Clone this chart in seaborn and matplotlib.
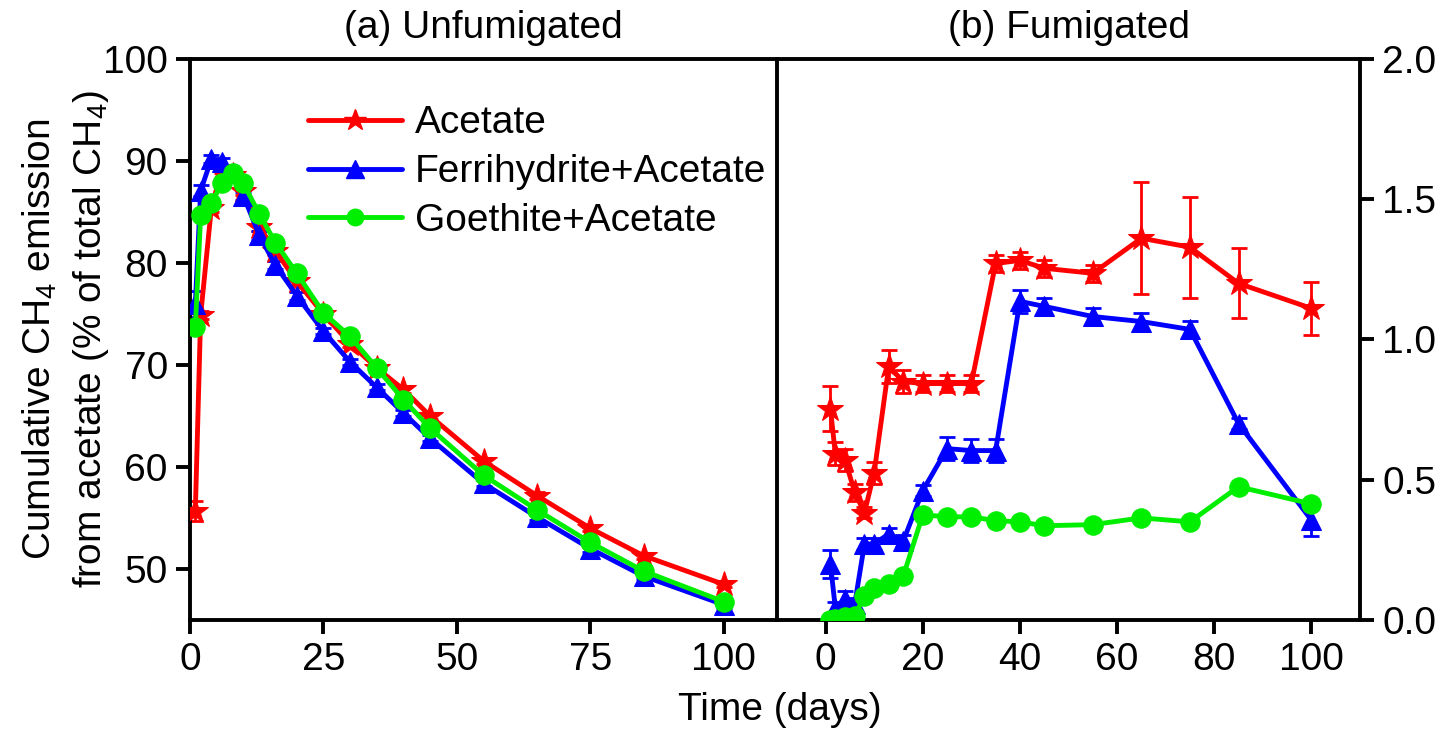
import numpy as np
import pandas as pd
import seaborn as sns
import matplotlib
matplotlib.use('Agg')
import matplotlib.pyplot as plt
from matplotlib.lines import Line2D

# --------------
# data
days = [1, 2, 4, 6, 8, 10, 13, 16, 20, 25, 30, 35, 40, 45, 55, 65, 75, 85, 100]
treatments = ['Acetate', 'Ferrihydrite+Acetate', 'Goethite+Acetate']

# (a) unfumigated, % of total CH4
unf_acetate = [55.7, 74.9, 85.4, 89.2, 88.6, 87.1, 83.5, 81.2, 78.2, 75.0, 72.1, 69.7,
               67.6, 65.0, 60.6, 57.2, 54.0, 51.3, 48.5]
unf_ferri = [76.0, 87.1, 90.2, 89.9, 88.8, 86.6, 82.7, 79.8, 76.8, 73.3, 70.3, 67.8,
             65.3, 62.8, 58.4, 55.1, 52.0, 49.3, 46.5]
unf_goeth = [73.7, 84.7, 85.9, 87.8, 88.8, 87.8, 84.8, 82.0, 79.0, 75.1, 72.8, 69.7,
             66.6, 63.8, 59.2, 55.8, 52.6, 49.8, 46.8]
unf_acetate_err = [1.0, 0.4, 0.4, 0.4, 0.4, 0.4, 0.4, 0.4, 0.4, 0.3, 0.3, 0.3,
                   0.3, 0.3, 0.3, 0.3, 0.3, 0.3, 0.3]
unf_ferri_err = [1.3, 0.5, 0.4, 0.4, 0.4, 0.4, 0.4, 0.4, 0.4, 0.3, 0.3, 0.3,
                 0.3, 0.3, 0.3, 0.3, 0.3, 0.3, 0.3]
unf_goeth_err = [0.3, 0.4, 0.4, 0.4, 0.4, 0.4, 0.4, 0.4, 0.4, 0.3, 0.3, 0.3,
                 0.3, 0.3, 0.4, 0.5, 0.4, 0.3, 0.3]

# (b) fumigated
fum_acetate = [0.754, 0.593, 0.571, 0.455, 0.382, 0.525, 0.904, 0.850, 0.843, 0.843, 0.843,
               1.271, 1.282, 1.254, 1.236, 1.361, 1.329, 1.200, 1.111]
fum_ferri = [0.200, 0.043, 0.075, 0.057, 0.271, 0.271, 0.307, 0.282, 0.461, 0.611, 0.604,
             0.604, 1.136, 1.118, 1.082, 1.064, 1.036, 0.700, 0.356]
fum_goeth = [0.000, 0.005, 0.010, 0.015, 0.086, 0.114, 0.129, 0.157, 0.375, 0.368, 0.368,
             0.354, 0.350, 0.336, 0.340, 0.364, 0.350, 0.475, 0.414]
fum_acetate_err = [0.08, 0.04, 0.04, 0.03, 0.02, 0.04, 0.06, 0.04, 0.03, 0.03, 0.03,
                   0.03, 0.03, 0.03, 0.03, 0.20, 0.18, 0.125, 0.095]
fum_ferri_err = [0.05, 0.02, 0.03, 0.02, 0.02, 0.02, 0.02, 0.02, 0.02, 0.04, 0.04,
                 0.04, 0.04, 0.03, 0.03, 0.03, 0.03, 0.02, 0.055]
fum_goeth_err = [0.005, 0.005, 0.005, 0.005, 0.01, 0.01, 0.01, 0.01, 0.01, 0.01, 0.01,
                 0.01, 0.01, 0.01, 0.01, 0.01, 0.01, 0.01, 0.01]

colors = {'Acetate': '#ff0000', 'Ferrihydrite+Acetate': '#0000ff', 'Goethite+Acetate': '#00ee00'}
markers = {'Acetate': '*', 'Ferrihydrite+Acetate': '^', 'Goethite+Acetate': 'o'}
msizes = {'Acetate': 19, 'Ferrihydrite+Acetate': 15, 'Goethite+Acetate': 14}


def make_df(vals, errs):
    rows = []
    for t, v, e in zip(treatments, vals, errs):
        for d, y, s in zip(days, v, e):
            rows.append({'day': d, 'value': y, 'err': s, 'treatment': t})
    return pd.DataFrame(rows)


df_unf = make_df([unf_acetate, unf_ferri, unf_goeth], [unf_acetate_err, unf_ferri_err, unf_goeth_err])
df_fum = make_df([fum_acetate, fum_ferri, fum_goeth], [fum_acetate_err, fum_ferri_err, fum_goeth_err])

# --------------
sns.set_theme(style='ticks')
plt.rcParams['font.family'] = ['Liberation Sans', 'DejaVu Sans']
plt.rcParams['mathtext.fontset'] = 'custom'
plt.rcParams['mathtext.rm'] = 'Liberation Sans'
plt.rcParams['mathtext.it'] = 'Liberation Sans:italic'
plt.rcParams['text.color'] = 'black'
plt.rcParams['axes.labelcolor'] = 'black'
plt.rcParams['xtick.color'] = 'black'
plt.rcParams['ytick.color'] = 'black'
plt.rcParams['axes.linewidth'] = 2.8
plt.rcParams['xtick.major.width'] = 2.8
plt.rcParams['ytick.major.width'] = 2.8
plt.rcParams['xtick.major.size'] = 10
plt.rcParams['ytick.major.size'] = 10

FS = 28

fig = plt.figure(figsize=(14.4, 7.29), dpi=100)
ax1 = fig.add_axes([190 / 1440, 109 / 729, 587 / 1440, 561 / 729])
ax2 = fig.add_axes([777 / 1440, 109 / 729, 583 / 1440, 561 / 729])


def draw(ax, df):
    for t in treatments:
        sub = df[df['treatment'] == t]
        ax.errorbar(sub['day'], sub['value'], yerr=sub['err'], fmt='none',
                    ecolor=colors[t], elinewidth=2, capsize=6, capthick=2, zorder=2)
        sns.lineplot(data=sub, x='day', y='value', ax=ax, color=colors[t],
                     marker=markers[t], markersize=msizes[t], markeredgecolor=colors[t],
                     linewidth=3.5, legend=False, zorder=3)
    ax.set_xlabel('')
    ax.set_ylabel('')


draw(ax1, df_unf)
draw(ax2, df_fum)

# left panel
ax1.set_xlim(0, 110)
ax1.set_ylim(45, 100)
ax1.set_xticks([0, 25, 50, 75, 100])
ax1.set_yticks([50, 60, 70, 80, 90, 100])
ax1.tick_params(labelsize=FS, direction='out', right=False, top=False)
ax1.spines['right'].set_visible(False)
ax1.set_title('(a) Unfumigated', fontsize=FS, pad=15)
ax1.set_ylabel('Cumulative CH$_4$ emission\nfrom acetate (% of total CH$_4$)', fontsize=FS,
               linespacing=1.4, labelpad=-6)

# right panel
ax2.set_xlim(-10, 110)
ax2.set_ylim(0, 2.0)
ax2.set_xticks([0, 20, 40, 60, 80, 100])
ax2.set_yticks([0.0, 0.5, 1.0, 1.5, 2.0])
ax2.yaxis.set_major_formatter(matplotlib.ticker.FormatStrFormatter('%.1f'))
ax2.yaxis.tick_right()
ax2.tick_params(labelsize=FS, direction='out', left=False, top=False)
ax2.set_title('(b) Fumigated', fontsize=FS, pad=15)

for ax in (ax1, ax2):
    for s in ax.spines.values():
        s.set_color('black')
        s.set_linewidth(2.8)
    ax.tick_params(colors='black', pad=6)

fig.text(780 / 1440, 0.026, 'Time (days)', ha='center', va='center', fontsize=FS)

handles = [Line2D([], [], color=colors[t], marker=markers[t], markersize=msizes[t] * 0.85,
                  linewidth=3.5) for t in treatments]
ax1.legend(handles, treatments, loc='upper left', bbox_to_anchor=(0.175, 0.945), frameon=False,
           fontsize=FS, handlelength=2.4, handletextpad=0.35, labelspacing=0.33, borderaxespad=0)

fig.savefig('out.png', dpi=100)
